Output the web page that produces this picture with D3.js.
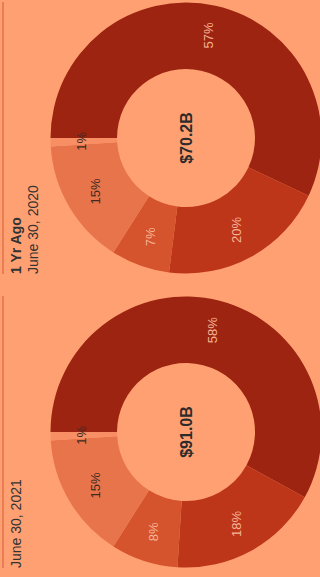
<!DOCTYPE html>
<html>
<head>
<meta charset="utf-8">
<script src="https://cdn.jsdelivr.net/npm/d3@7"></script>
<style>
  html, body { margin: 0; padding: 0; background: #ffa072; }
  svg { display: block; font-family: 'Liberation Sans', Arial, sans-serif; }
</style>
</head>
<body>
<div id="chart"></div>
<script>
(function () {
  let width = 320,
    height = 577

  // chart is drawn landscape, then turned a quarter to fit the window
  let innerW = height,
    innerH = width

  let panelDates = ['June 30, 2021', 'June 30, 2020']
  let panelTitles = ['', '1 Yr Ago']
  let totals = ['$91.0B', '$70.2B']
  let categories = ['Segment 1', 'Segment 2', 'Segment 3', 'Segment 4', 'Segment 5']
  let current = [58, 18, 8, 15, 1]
  let yearAgo = [57, 20, 7, 15, 1]
  let series = [current, yearAgo]

  let colorScale = d3.scaleOrdinal()
    .domain(categories)
    .range(['#9c2410', '#bd361a', '#d5532d', '#e8744b', '#f88e64'])

  let labelColor = d3.scaleOrdinal()
    .domain(categories)
    .range(['#f6b395', '#f6b395', '#f6b395', '#3f2a22', '#3f2a22'])

  let panelScale = d3.scaleBand()
    .domain(d3.range(panelDates.length))
    .range([9, 575])
    .paddingInner(0.075)

  let outerR = 135.5,
    innerR = 69

  let svg = d3.select('#chart')
    .append('svg')
    .attr('width', width)
    .attr('height', height)
    .append('g')
    .attr('transform', `translate(0,${height}) rotate(-90)`)

  svg.append('rect')
    .attr('width', innerW)
    .attr('height', innerH)
    .attr('fill', '#ffa072')

  let pie = d3.pie().sort(null).value(d => d)
  let arc = d3.arc().innerRadius(innerR).outerRadius(outerR)
  let labelArc = d3.arc().innerRadius(105).outerRadius(105)

  let panels = svg.selectAll('.panel')
    .data(d3.range(panelDates.length))
    .enter()
    .append('g')
    .attr('class', 'panel')
    .attr('transform', i => `translate(${panelScale(i)},0)`)

  panels.append('line')
    .attr('x1', 0)
    .attr('x2', panelScale.bandwidth())
    .attr('y1', 3)
    .attr('y2', 3)
    .attr('stroke', '#dc6440')
    .attr('stroke-width', 1.2)

  panels.each(function (i) {
    let g = d3.select(this)
    let lines = [panelTitles[i], panelDates[i]].filter(t => t !== '')
    lines.forEach((t, j) => {
      g.append('text')
        .attr('x', 0)
        .attr('y', 21 + j * 17)
        .attr('font-size', 14)
        .attr('font-weight', (t === panelTitles[i]) ? 'bold' : 'normal')
        .attr('fill', '#333')
        .text(t)
    })

    let donut = g.append('g')
      .attr('transform', `translate(${panelScale.bandwidth() / 2},186)`)

    let slices = pie(series[i])

    donut.selectAll('path')
      .data(slices)
      .enter()
      .append('path')
      .attr('d', arc)
      .attr('fill', (d, k) => colorScale(categories[k]))

    donut.selectAll('.pct')
      .data(slices)
      .enter()
      .append('text')
      .attr('class', 'pct')
      .attr('transform', d => `translate(${labelArc.centroid(d)})`)
      .attr('text-anchor', 'middle')
      .attr('dy', '0.35em')
      .attr('font-size', 13)
      .attr('fill', (d, k) => labelColor(categories[k]))
      .text(d => d.data + '%')

    donut.append('text')
      .attr('text-anchor', 'middle')
      .attr('dy', '0.35em')
      .attr('font-size', 16)
      .attr('font-weight', 'bold')
      .attr('fill', '#2b2b2b')
      .text(totals[i])
  })
})()
</script>
</body>
</html>
